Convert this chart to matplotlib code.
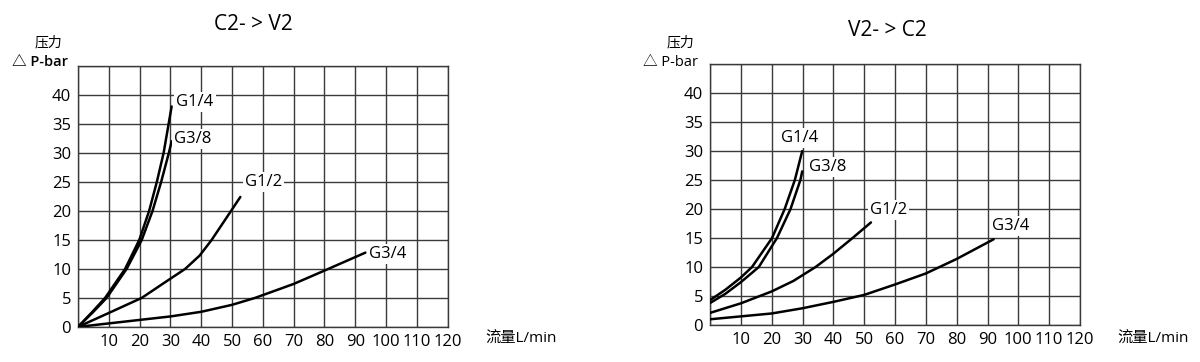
import matplotlib
matplotlib.use("Agg")
from matplotlib import pyplot as plt

plt.rcParams['font.family'] = ['Open Sans', 'Noto Sans CJK SC', 'DejaVu Sans']

# C2 -> V2
left_title = "C2- > V2"
l_g14_x = [0, 4.5, 8.8, 15.3, 19.9, 23.1, 25.6, 27.8, 30.4]
l_g14_y = [0, 2.5, 5, 10, 15, 20, 25, 30, 38.0]
l_g38_x = [0, 4.8, 9.3, 15.8, 20.7, 24.2, 27.0, 29.5, 30.4]
l_g38_y = [0, 2.5, 5, 10, 15, 20, 25, 30, 32.0]
l_g12_x = [0, 10, 20.7, 28, 34.8, 39.5, 43.4, 49.7, 52.7]
l_g12_y = [0, 2.4, 5, 7.6, 10, 12.3, 15, 20, 22.4]
l_g34_x = [0, 10, 20, 30, 40, 50, 57.5, 70, 80, 93.3]
l_g34_y = [0, 0.6, 1.2, 1.8, 2.6, 3.8, 5.0, 7.4, 9.7, 12.8]
left_labels = [("G1/4", 38.0, 38.7), ("G3/8", 37.2, 32.4),
               ("G1/2", 60.2, 25.0), ("G3/4", 100.5, 12.5)]

# V2 -> C2
right_title = "V2- > C2"
r_g14_x = [0, 5, 10, 13.6, 20.1, 24.2, 27.5, 29.9]
r_g14_y = [4.3, 6.1, 8.2, 10, 15, 20, 25, 30]
r_g38_x = [0, 5, 10, 15.8, 21.7, 26.1, 29.3, 29.9]
r_g38_y = [3.8, 5.4, 7.4, 10, 15, 20, 25, 26.5]
r_g12_x = [0, 10, 20, 27, 34.2, 40, 46.2, 52.2]
r_g12_y = [2.1, 3.75, 5.8, 7.6, 10, 12.3, 15, 17.7]
r_g34_x = [0, 10, 20, 30, 40, 50, 60, 70, 80, 92]
r_g34_y = [1.0, 1.5, 2.0, 2.9, 4.0, 5.2, 7.0, 8.9, 11.4, 14.8]
right_labels = [("G1/4", 29.0, 32.3), ("G3/8", 38.0, 27.2),
                ("G1/2", 57.8, 19.9), ("G3/4", 97.5, 17.0)]

x_ticks = [10, 20, 30, 40, 50, 60, 70, 80, 90, 100, 110, 120]
y_ticks = [0, 5, 10, 15, 20, 25, 30, 35, 40]


def draw(ax, curves, labels):
    for xs, ys in curves:
        ax.plot(xs, ys, color='black', lw=1.8, zorder=3,
                solid_joinstyle='round', solid_capstyle='round')
    ax.set_xlim(0, 120)
    ax.set_ylim(0, 45)
    ax.set_xticks(range(0, 121, 10))
    ax.set_yticks(range(0, 46, 5))
    ax.set_xticklabels([''] + [str(t) for t in x_ticks])
    ax.set_yticklabels([str(t) for t in y_ticks] + [''])
    ax.grid(True, color='#3a3a3a', lw=1.0)
    ax.tick_params(length=0, labelsize=12, pad=5)
    for s in ax.spines.values():
        s.set_color('#3a3a3a')
        s.set_linewidth(1.0)
    for txt, x, y in labels:
        ax.text(x, y, txt, fontsize=12, ha='center', va='center', zorder=4,
                bbox=dict(facecolor='white', edgecolor='none', pad=1.5))


fig = plt.figure(figsize=(12, 3.62), dpi=100)
ax1 = fig.add_axes([0.065, 0.097, 0.308, 0.721])
ax2 = fig.add_axes([0.5917, 0.102, 0.3083, 0.721])

draw(ax1, [(l_g14_x, l_g14_y), (l_g38_x, l_g38_y),
           (l_g12_x, l_g12_y), (l_g34_x, l_g34_y)], left_labels)
draw(ax2, [(r_g14_x, r_g14_y), (r_g38_x, r_g38_y),
           (r_g12_x, r_g12_y), (r_g34_x, r_g34_y)], right_labels)

# titles
fig.text(253 / 1200, 1 - 25 / 362, left_title, fontsize=15, ha='center', va='center')
fig.text(887 / 1200, 1 - 30 / 362, right_title, fontsize=15, ha='center', va='center')

# axis captions
fig.text(48 / 1200, 1 - 43 / 362, "压力", fontsize=10, ha='center', va='center')
fig.text(12 / 1200, 1 - 62 / 362, "△ P-bar", fontsize=10.5, ha='left', va='center',
         fontweight='semibold')
fig.text(680 / 1200, 1 - 43 / 362, "压力", fontsize=10, ha='center', va='center')
fig.text(643 / 1200, 1 - 62 / 362, "△ P-bar", fontsize=10.5, ha='left', va='center')
fig.text(485 / 1200, 1 - 338 / 362, "流量L/min", fontsize=11, ha='left', va='center')
fig.text(1117 / 1200, 1 - 338 / 362, "流量L/min", fontsize=11, ha='left', va='center')

fig.savefig("out.png", dpi=100)
